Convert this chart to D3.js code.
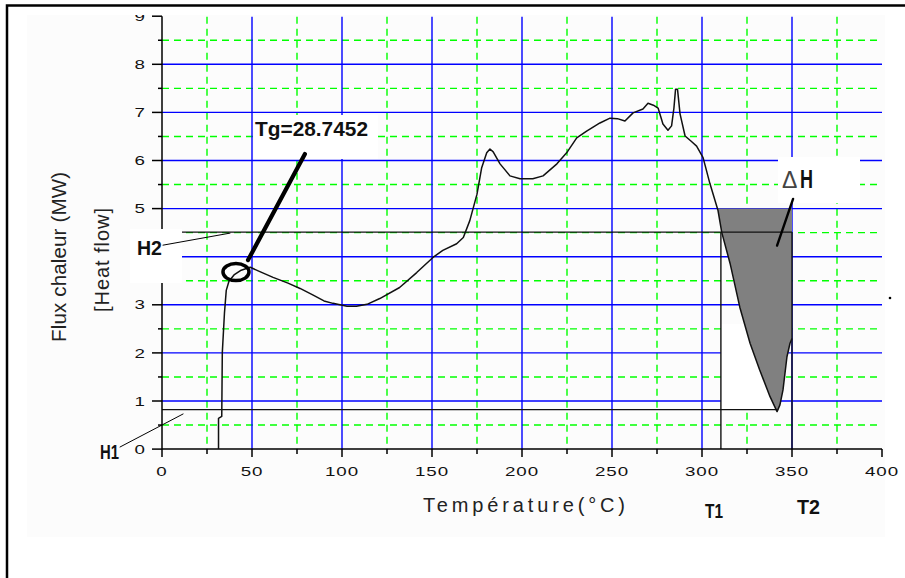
<!DOCTYPE html>
<html><head><meta charset="utf-8">
<script src="https://cdn.jsdelivr.net/npm/d3@7"></script>
<style>body{margin:0;background:#fff}svg{display:block}</style>
</head><body>
<svg id="c" width="905" height="578"></svg>
<script>
// ---- data ----
const temperature = [31.4,31.4,33.2,33.5,34.7,35.7,37.2,40,44,49,55,61.7,70,76.7,84,90,95,102.8,108,113.9,121,132,141.5,150.7,156,163.7,167.4,171,175,177.6,180.4,182.2,184,187.8,193.3,198.9,206,211.7,219.4,224.8,230.4,235.9,243.3,248.9,253,257.2,261.7,267.2,270,273,275.6,278.3,281.1,283.1,284.4,285.3,286.4,287.8,290.6,294,297,300.6,304.4,308.9,311,315.6,321,326.7,332,337.8,341.7,343.3,345,347.2,348.9,350];
const heatFlow = [0,0.64,0.68,2.0,2.83,3.3,3.49,3.62,3.72,3.78,3.68,3.57,3.45,3.34,3.2,3.08,3.03,2.97,2.97,3.01,3.13,3.36,3.67,3.99,4.13,4.27,4.40,4.75,5.3,5.85,6.16,6.24,6.18,5.93,5.68,5.62,5.62,5.68,5.93,6.16,6.47,6.61,6.78,6.88,6.87,6.82,6.99,7.07,7.19,7.15,7.09,6.76,6.63,6.72,7.09,7.48,7.48,6.97,6.51,6.4,6.3,6.06,5.52,4.96,4.5,3.86,2.95,2.2,1.65,1.09,0.78,0.92,1.23,1.92,2.2,2.3];
const xTickLabels = [0,50,100,150,200,250,300,350,400];
const xMinorTicks = [25,75,125,175,225,275,325,375];
const yTickLabels = [0,1,2,3,4,5,6,7,8,9];
const yMinorTicks = [0.5,1.5,2.5,3.5,4.5,5.5,6.5,7.5,8.5];
const hiddenYLabels = [4];            // covered by the H2 annotation box in the original
const H1 = 0.82, H2 = 4.51, T1 = 310.5, T2 = 350, dHTop = 5, whiteTop = 2.6;
const tgLabel = "Tg=28.7452";
const xTitle = "Température(°C)";
const yTitle1 = "Flux chaleur (MW)", yTitle2 = "[Heat flow]";

const data = temperature.map((t,i)=>({t, v:heatFlow[i]}));
const svg = d3.select("#c");
const x = d3.scaleLinear().domain([0,400]).range([162,882]);
const y = d3.scaleLinear().domain([0,9]).range([449.1,16.2]);
const X0 = x(0), X1 = x(400), Y0 = y(0), Y9 = y(9);
const line = d3.line().x(d=>x(d.t)).y(d=>y(d.v));

// background panel + frame
svg.append("rect").attr("x",27).attr("y",15).attr("width",858).attr("height",522).attr("fill","#fcfcfc");
svg.append("path").attr("d","M7,578V5.5H905").attr("fill","none").attr("stroke","#000").attr("stroke-width",2.5);

// grid
const g = svg.append("g");
g.selectAll(".hg").data(yMinorTicks).join("line").attr("x1",X0).attr("x2",X1)
 .attr("y1",d=>y(d)).attr("y2",d=>y(d)).attr("stroke","#00ff00").attr("stroke-width",1.4).attr("stroke-dasharray","7,5");
g.selectAll(".vg").data(xMinorTicks).join("line").attr("y1",Y9+0.5).attr("y2",Y0)
 .attr("x1",d=>x(d)).attr("x2",d=>x(d)).attr("stroke","#00ff00").attr("stroke-width",1.4).attr("stroke-dasharray","7,5");
g.selectAll(".hb").data(yTickLabels.filter(d=>d>0&&d<9)).join("line").attr("x1",X0).attr("x2",X1)
 .attr("y1",d=>y(d)).attr("y2",d=>y(d)).attr("stroke","#0000ff").attr("stroke-width",1.4);
g.selectAll(".vb").data(xTickLabels.filter(d=>d>0&&d<400)).join("line").attr("y1",Y9+0.5).attr("y2",Y0)
 .attr("x1",d=>x(d)).attr("x2",d=>x(d)).attr("stroke","#0000ff").attr("stroke-width",1.4);

// helper: where the descending branch (after 300 °C) crosses a level
const late = data.map((d,i)=>({...d,i})).filter(d=>d.t>300);
function crossing(level){
  for(let k=1;k<late.length;k++){
    const a=late[k-1], b=late[k];
    if(a.v>level && b.v<=level) return {t:a.t+(a.v-level)/(a.v-b.v)*(b.t-a.t), v:level, i:b.i};
  }
}
const iMin = late[d3.minIndex(late,d=>d.v)].i;

// shaded enthalpy region
const c5 = crossing(dHTop);
const shade = [{t:c5.t,v:dHTop}].concat(data.slice(c5.i)).concat([{t:T2,v:dHTop}]);
svg.append("path").attr("d", line(shade)+"Z").attr("fill","#808080");

// white region between T1 and the descending branch
const cw = crossing(whiteTop);
const wpoly = [{t:T1,v:whiteTop},{t:T1,v:H1},{t:data[iMin].t,v:H1}]
  .concat(data.slice(cw.i, iMin+1).reverse()).concat([{t:cw.t,v:whiteTop}]);
svg.append("path").attr("d", line(wpoly)+"Z").attr("fill","#fff");

// H / T lines
const L = svg.append("g").attr("stroke","#111").attr("stroke-width",1.4);
L.append("line").attr("x1",X0).attr("x2",x(T2)).attr("y1",y(H2)).attr("y2",y(H2));
L.append("line").attr("x1",X0).attr("x2",x(data[iMin].t)).attr("y1",y(H1)).attr("y2",y(H1));
L.append("line").attr("x1",x(T1)).attr("x2",x(T1)).attr("y1",y(H2)).attr("y2",Y0);
L.append("line").attr("x1",x(T2)).attr("x2",x(T2)).attr("y1",y(H2)).attr("y2",Y0);

// axes
const A = svg.append("g").attr("stroke","#000").attr("stroke-width",1.5);
A.append("line").attr("x1",X0).attr("x2",X0).attr("y1",Y9).attr("y2",Y0);
A.append("line").attr("x1",X0).attr("x2",X1).attr("y1",Y0).attr("y2",Y0);
A.selectAll(".yt").data(yTickLabels).join("line").attr("x1",X0-10).attr("x2",X0).attr("y1",d=>y(d)).attr("y2",d=>y(d));
A.selectAll(".ym").data(yMinorTicks).join("line").attr("x1",X0-4).attr("x2",X0).attr("y1",d=>y(d)).attr("y2",d=>y(d));
A.selectAll(".xt").data(xTickLabels).join("line").attr("y1",Y0).attr("y2",Y0+8).attr("x1",d=>x(d)).attr("x2",d=>x(d));
A.selectAll(".xm").data(xMinorTicks).join("line").attr("y1",Y0).attr("y2",Y0+5).attr("x1",d=>x(d)).attr("x2",d=>x(d));

svg.append("clipPath").attr("id","clipTop").append("rect").attr("x",0).attr("y",15).attr("width",905).attr("height",600);
const tl = svg.append("g").attr("font-family","Liberation Sans, Arial, sans-serif").attr("font-size",12.5).attr("fill","#111").attr("clip-path","url(#clipTop)");
tl.selectAll(".xl").data(xTickLabels).join("text").attr("text-anchor","middle")
  .attr("transform",d=>`translate(${x(d)},475.5) scale(1.5,1)`).attr("letter-spacing",0.6).text(d=>d);
tl.selectAll(".yl").data(yTickLabels.filter(d=>!hiddenYLabels.includes(d))).join("text").attr("text-anchor","end")
  .attr("transform",d=>`translate(145,${y(d)+4.6}) scale(1.5,1)`).text(d=>d);

// white label boxes
svg.append("rect").attr("x",130).attr("y",229).attr("width",52).attr("height",54).attr("fill","#fff");
svg.append("rect").attr("x",254).attr("y",115).attr("width",124).attr("height",44).attr("fill","#fff");
svg.append("rect").attr("x",778).attr("y",157).attr("width",82).attr("height",46).attr("fill","#fff");

// curve
svg.append("path").attr("d",line(data))
  .attr("fill","none").attr("stroke","#111").attr("stroke-width",1.5).attr("stroke-linejoin","round");

// annotations
svg.append("ellipse").attr("cx",x(41.1)).attr("cy",y(3.68)).attr("rx",13).attr("ry",8.5)
  .attr("fill","none").attr("stroke","#000").attr("stroke-width",3.5);
const ptr = (x1,y1,x2,y2,w)=>svg.append("line").attr("x1",x(x1)).attr("y1",y(y1)).attr("x2",x(x2)).attr("y2",y(y2))
  .attr("stroke","#000").attr("stroke-width",w).attr("stroke-linecap","round");
ptr(47.8,3.93,79.4,6.135,4.2);
ptr(0.56,4.24,37.8,4.49,1);
ptr(-23.3,0.044,11.7,0.73,1);
ptr(350.6,5.2,341.7,4.23,2.4);

const tf = "Liberation Sans, Arial, sans-serif";
const bold = (txt,xp,yp,size,len)=>svg.append("text").attr("x",xp).attr("y",yp).attr("font-family",tf)
  .attr("font-weight","bold").attr("font-size",size).attr("textLength",len).attr("lengthAdjust","spacingAndGlyphs").attr("fill","#111").text(txt);
bold(tgLabel,255,136,20,113);
bold("H2",137,255,21,25);
bold("H1",100,459,21,19);
bold("T1",705,518,21,18);
bold("T2",797,514,21,23);
svg.append("text").attr("x",782).attr("y",188).attr("font-family",tf).attr("font-size",23).attr("fill","#444").text("Δ");
bold("H",800,188,25,13);
svg.append("circle").attr("cx",890).attr("cy",298).attr("r",1.3).attr("fill","#000");

// axis titles
svg.append("text").attr("x",524).attr("y",512).attr("text-anchor","middle").attr("font-family",tf).attr("font-size",20)
  .attr("fill","#222").attr("textLength",202).attr("lengthAdjust","spacing").text(xTitle);
svg.append("text").attr("transform","translate(66,257) rotate(-90)").attr("text-anchor","middle").attr("font-family",tf).attr("font-size",20.5)
  .attr("fill","#222").attr("textLength",170).attr("lengthAdjust","spacing").text(yTitle1);
svg.append("text").attr("transform","translate(109,260) rotate(-90)").attr("text-anchor","middle").attr("font-family",tf).attr("font-size",20)
  .attr("fill","#222").attr("textLength",104).attr("lengthAdjust","spacing").text(yTitle2);
</script>
</body></html>
